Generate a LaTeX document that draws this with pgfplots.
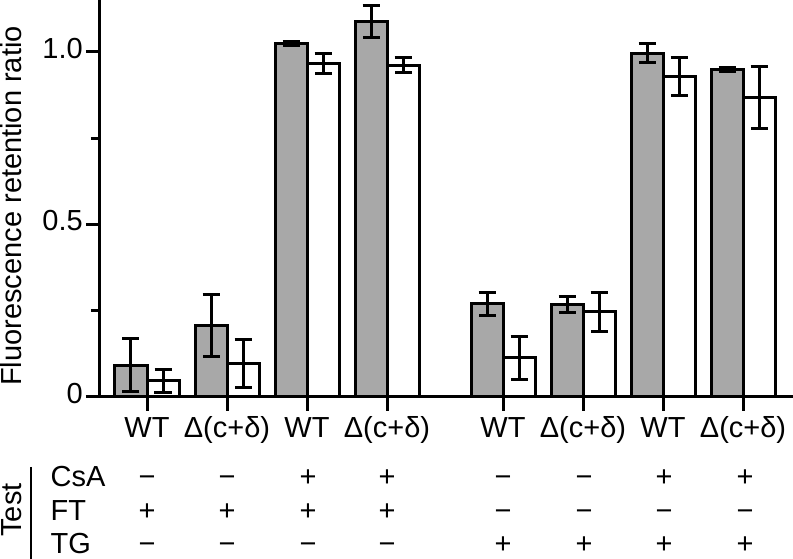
\documentclass[border=0pt]{standalone}
\usepackage{fontspec}
\setmainfont{Liberation Sans}
\usepackage{pgfplots}
\pgfplotsset{compat=1.18}
\definecolor{bargray}{RGB}{168,168,168}

\pgfplotstableread{
x y e
-0.2 0.092 0.077
0.8 0.207 0.090
1.8 1.025 0.006
2.8 1.087 0.047
4.25 0.270 0.034
5.25 0.268 0.022
6.25 0.996 0.028
7.25 0.948 0.006
}\graydata
\pgfplotstableread{
x y e
0.2 0.047 0.034
1.2 0.097 0.070
2.2 0.965 0.029
3.2 0.961 0.022
4.65 0.114 0.062
5.65 0.247 0.057
6.65 0.928 0.054
7.65 0.868 0.090
}\whitedata

\begin{document}
\fontsize{29bp}{32bp}\selectfont
\begin{tikzpicture}[x=1bp,y=1bp]
\useasboundingbox (-100,-162) rectangle (693,397);
\begin{axis}[
  at={(0,0)}, anchor=south west,
  scale only axis, width=693bp, height=397bp,
  xmin=-0.5875, xmax=8.075, ymin=0, ymax=1.15,
  axis x line*=bottom, axis y line*=left,
  axis line style={line width=3bp, black},
  tick align=outside,
  major tick length=14bp, minor tick length=9bp,
  every tick/.style={line width=3bp, black},
  xtick={0,1,2,3,4.45,5.45,6.45,7.45},
  xticklabels={WT,Δ(c+δ),WT,Δ(c+δ),WT,Δ(c+δ),WT,Δ(c+δ)},
  ytick={0,0.5,1}, yticklabels={0,0.5,1.0},
  minor ytick={0.25,0.75},
  typeset ticklabels with strut,
  xticklabel style={inner sep=4bp},
  yticklabel style={inner sep=3bp},
  clip=false,
  ybar, bar width=0.4, bar shift=0pt,
  error bars/y dir=both, error bars/y explicit,
  error bars/error bar style={line width=3bp, black},
  error bars/error mark options={rotate=90, line width=3bp, black, mark size=8.5bp},
]
\addplot[fill=bargray, draw=black, line width=3bp] table[x=x, y=y, y error=e] {\graydata};
\addplot[fill=white, draw=black, line width=3bp] table[x=x, y=y, y error=e] {\whitedata};
\end{axis}
% y label
\node[rotate=90, anchor=base, inner sep=0pt] at (-78,191) {Fluorescence retention ratio};
% condition table
\node[rotate=90, anchor=base, inner sep=0pt] at (-78,-113) {Test};
\draw[line width=2.5bp] (-69,-70) -- (-69,-162);
\node[anchor=base west, inner sep=0pt] at (-49.5,-90) {CsA};
\node[anchor=base west, inner sep=0pt] at (-49.5,-123.5) {FT};
\node[anchor=base west, inner sep=0pt] at (-49.5,-156.5) {TG};
\foreach \X/\a/\b/\c in {47/−/+/−, 127/−/+/−, 208/+/+/−, 287/+/+/−, 403/−/−/+, 484/−/−/+, 564/+/−/+, 645/+/−/+}{
  \node[anchor=base, inner sep=0pt] at (\X,-90) {\a};
  \node[anchor=base, inner sep=0pt] at (\X,-123.5) {\b};
  \node[anchor=base, inner sep=0pt] at (\X,-156.5) {\c};
}
\end{tikzpicture}
\end{document}
